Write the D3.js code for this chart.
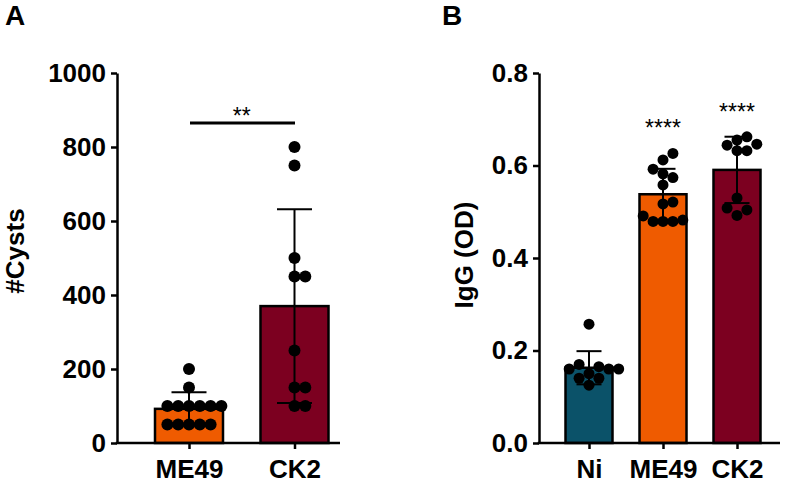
<!DOCTYPE html>
<html><head><meta charset="utf-8">
<script src="https://cdn.jsdelivr.net/npm/d3@7"></script>
<style>
html,body{margin:0;padding:0;background:#fff;}
svg{display:block;font-family:"Liberation Sans",Arial,Helvetica,sans-serif;}
</style></head><body>
<svg id="chart" width="790" height="483"></svg>
<script>
// ---- Data ----
const catsA = ["ME49", "CK2"];
const cystsME49 = [200, 150, 100, 100, 100, 100, 100, 100, 50, 50, 50, 50, 50];
const cystsCK2 = [800, 750, 500, 450, 450, 250, 150, 150, 100, 100];
const ticksA = [0, 200, 400, 600, 800, 1000];
const sigA = "**";

const catsB = ["Ni", "ME49", "CK2"];
const iggNi = [0.257, 0.17, 0.165, 0.16, 0.16, 0.16, 0.15, 0.14, 0.14, 0.125];
const iggME49 = [0.626, 0.612, 0.592, 0.582, 0.574, 0.558, 0.521, 0.517, 0.491, 0.479, 0.479, 0.482, 0.479];
const iggCK2 = [0.655, 0.662, 0.646, 0.644, 0.632, 0.632, 0.530, 0.492, 0.504, 0.508];
const ticksB = [0, 0.2, 0.4, 0.6, 0.8];
const sigB = ["", "****", "****"];

const colors = {Ni: "#0B5269", ME49: "#EF5B00", CK2: "#7C0020"};

// ---- Helpers ----
const svg = d3.select("#chart");
const FONT = 26;

function swarm(values, y, cx, r) {
  const placed = [];
  const step = 1.8 * r;
  const res = values.map(v => ({v, y: y(v), x: cx}));
  const order = res.slice().sort((a, b) => a.v - b.v);
  order.forEach(p => {
    for (let k = 0; k < 20; k++) {
      const cands = k === 0 ? [0] : [k * step, -k * step];
      let ok = false;
      for (const off of cands) {
        const x = cx + off;
        const hit = placed.some(q => (q.x - x) ** 2 + (q.y - p.y) ** 2 < (step * 0.97) ** 2);
        if (!hit) { p.x = x; ok = true; break; }
      }
      if (ok) break;
    }
    placed.push(p);
  });
  return res;
}

function panel(opts) {
  const g = svg.append("g");
  const y = d3.scaleLinear().domain(opts.yDomain).range([443, 73]);
  const x = d3.scalePoint().domain(opts.cats).range(opts.xRange);

  opts.cats.forEach((c, i) => {
    const vals = opts.data[i];
    const m = d3.mean(vals), sd = d3.deviation(vals);
    const cx = x(c);
    g.append("rect")
      .attr("x", cx - opts.barW / 2).attr("width", opts.barW)
      .attr("y", y(m)).attr("height", y(0) - y(m))
      .attr("fill", colors[c]).attr("stroke", "#000").attr("stroke-width", 2.5);
    const eb = g.append("g").attr("stroke", "#000").attr("stroke-width", 2);
    eb.append("line").attr("x1", cx).attr("x2", cx).attr("y1", y(m + sd)).attr("y2", y(m - sd));
    eb.append("line").attr("x1", cx - opts.capW / 2).attr("x2", cx + opts.capW / 2).attr("y1", y(m + sd)).attr("y2", y(m + sd));
    eb.append("line").attr("x1", cx - opts.capW / 2).attr("x2", cx + opts.capW / 2).attr("y1", y(m - sd)).attr("y2", y(m - sd));
    const pts = swarm(vals, y, cx, opts.r);
    g.selectAll(null).data(pts).enter().append("circle")
      .attr("cx", d => d.x).attr("cy", d => d.y).attr("r", opts.r).attr("fill", "#000");
  });

  const ya = g.append("g").attr("transform", `translate(${opts.axisX},0)`)
    .call(d3.axisLeft(y).tickValues(opts.ticks).tickFormat(opts.fmt).tickSize(6).tickSizeOuter(0).tickPadding(5));
  ya.select(".domain").attr("stroke-width", 2.5);
  ya.selectAll(".tick line").attr("stroke-width", 2.5);
  ya.selectAll("text").attr("font-size", FONT).attr("font-weight", "bold").attr("fill", "#000")
    .attr("font-family", "Liberation Sans, Arial, sans-serif");

  const xa = g.append("g").attr("transform", `translate(0,443)`)
    .call(d3.axisBottom(x).tickSize(6).tickSizeOuter(0));
  xa.select(".domain").remove();
  xa.selectAll(".tick line").attr("stroke-width", 2.5);
  xa.selectAll("text").attr("font-size", FONT).attr("font-weight", "bold").attr("fill", "#000")
    .attr("dy", null).attr("y", 35).attr("font-family", "Liberation Sans, Arial, sans-serif");
  g.append("line").attr("x1", opts.axisX - 1.25).attr("x2", opts.axisEnd).attr("y1", 443).attr("y2", 443)
    .attr("stroke", "#000").attr("stroke-width", 2.5);

  g.append("text").attr("transform", `translate(${opts.labelX},${opts.labelY}) rotate(-90)`)
    .attr("text-anchor", "middle").attr("font-size", FONT).attr("font-weight", "bold")
    .text(opts.yLabel);

  g.append("text").attr("x", opts.letterX).attr("y", 25).attr("font-size", 28).attr("font-weight", "bold")
    .text(opts.letter);
  return {x, y, g};
}

// Panel A
const A = panel({
  cats: catsA, data: [cystsME49, cystsCK2], yDomain: [0, 1000], ticks: ticksA, fmt: d3.format("d"),
  xRange: [189, 294.5], barW: 68, capW: 35, r: 6, axisX: 117, axisEnd: 340,
  yLabel: "#Cysts", labelX: 24, labelY: 251, letter: "A", letterX: 5
});
A.g.append("line").attr("x1", 190).attr("x2", 295).attr("y1", A.y(865)).attr("y2", A.y(865))
  .attr("stroke", "#000").attr("stroke-width", 3);
A.g.append("text").attr("x", (A.x("ME49") + A.x("CK2")) / 2).attr("y", A.y(865) + 1)
  .attr("text-anchor", "middle").attr("font-size", 23).text(sigA);

// Panel B
const B = panel({
  cats: catsB, data: [iggNi, iggME49, iggCK2], yDomain: [0, 0.8], ticks: ticksB, fmt: d3.format(".1f"),
  xRange: [589, 737], barW: 47, capW: 25, r: 5.5, axisX: 539, axisEnd: 780,
  yLabel: "IgG (OD)", labelX: 473, labelY: 255, letter: "B", letterX: 442
});
catsB.forEach((c, i) => {
  if (!sigB[i]) return;
  const vals = [iggNi, iggME49, iggCK2][i];
  const top = d3.max(vals);
  B.g.append("text").attr("x", B.x(c)).attr("y", B.y(top) - 17)
    .attr("text-anchor", "middle").attr("font-size", 23).text(sigB[i]);
});
</script>
</body></html>
